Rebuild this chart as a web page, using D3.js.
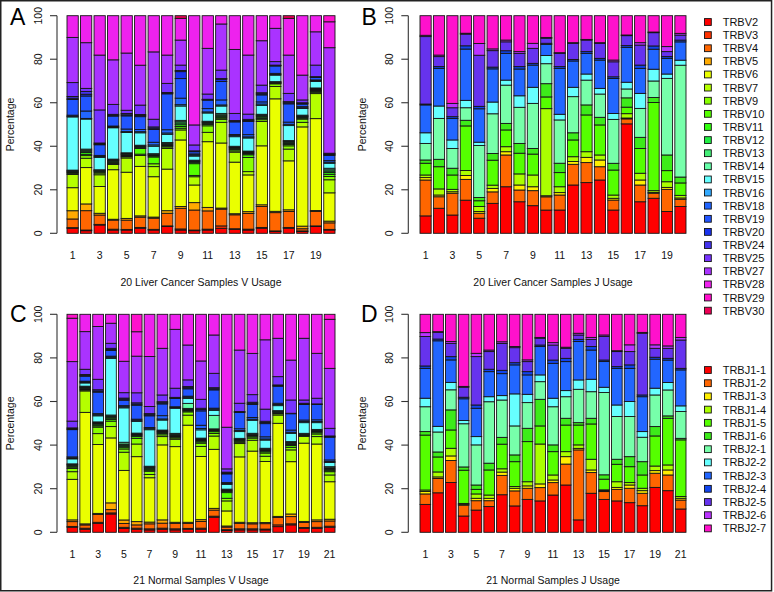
<!DOCTYPE html>
<html><head><meta charset="utf-8">
<script src="https://cdn.jsdelivr.net/npm/d3@7/dist/d3.min.js"></script>
<style>body{margin:0;background:#fff}svg{display:block;font-family:Arial,"Liberation Sans",Helvetica,sans-serif}</style>
</head><body><svg id="c" width="774" height="592"></svg>
<script>
const vGenes = ["TRBV2","TRBV3","TRBV4","TRBV5","TRBV6","TRBV7","TRBV9","TRBV10","TRBV11","TRBV12","TRBV13","TRBV14","TRBV15","TRBV16","TRBV18","TRBV19","TRBV20","TRBV24","TRBV25","TRBV27","TRBV28","TRBV29","TRBV30"];
const jGenes = ["TRBJ1-1","TRBJ1-2","TRBJ1-3","TRBJ1-4","TRBJ1-5","TRBJ1-6","TRBJ2-1","TRBJ2-2","TRBJ2-3","TRBJ2-4","TRBJ2-5","TRBJ2-6","TRBJ2-7"];
const vColors = ["#FF0000","#FF3300","#FF6600","#FFAA00","#EAFF00","#B5FF00","#88FF00","#55FF00","#33FF11","#22EE44","#44EE77","#66FFAA","#66FFFF","#33AAFF","#2266FF","#2255FF","#1A33EE","#4433EE","#7733FF","#AA33FF","#EE22EE","#FF11CC","#EE0055"];
const jColors = ["#FF0000","#FF6600","#FFEE00","#AAFF00","#55FF00","#3DEB1A","#77FFAA","#66FFFF","#2266FF","#1144EE","#6633EE","#BB33FF","#FF11CC"];
const yTicks = [0,20,40,60,80,100];

// rows = samples, columns = genes (percent)
const liverV = [
[2.3,0.3,4.0,3.8,10.6,6.1,0.5,0.4,0.3,0.3,0.2,0.3,24.5,0.3,0.5,7.2,0.6,0.8,6.4,20.8,10,0,0],
[1.2,0.3,8.9,3.1,16.7,4.3,1.2,0.6,0.8,0.6,0.5,0.5,13.8,0.3,3.4,6.9,0.8,1.3,1.4,21,12.4,0,0],
[3.8,0.3,4.3,0.8,12.3,5.4,0.8,0.5,0.3,0.3,0.2,0.2,5.7,0.4,0.5,4.9,0.4,0.4,15.2,25.2,18.1,0,0],
[1.5,0.4,4.2,0.4,22.9,2.4,0.5,0.5,0.5,0.4,0.3,0.3,14.5,0.4,0.4,4.6,0.4,0.4,4.6,20.6,20.4,0,0],
[1.5,0.3,4.3,0.8,21.4,6.6,0.6,0.4,0.4,0.3,0.3,0.4,9.4,0.4,1.2,6.1,0.5,0.6,1.5,26.5,17.3,0,0],
[2.3,0.4,4.7,0.6,22.7,5,0.6,2.6,0.5,0.4,0.3,0.3,5.7,0.5,1,5.9,0.5,0.5,4.3,18.3,22.7,0,0],
[1.5,0.3,5.1,0.5,18.4,4.6,1.3,3.1,0.5,0.4,0.3,0.3,3.4,0.6,1.2,5.8,0.6,0.6,3.5,30.7,16.5,0,0],
[3.1,0.3,5.8,1.2,19.1,9.5,0.7,0.5,0.4,0.4,0.4,0.3,3.8,0.6,1.5,16.5,0.3,0.3,4.2,13,18.1,0,0],
[1.5,0.5,9.5,0.8,30.6,4.6,0.8,0.8,0.8,0.8,0.6,0.6,6.6,0.6,3,9,3.2,0.5,2.5,11.5,10,0,1.2],
[1.2,0.3,9.2,3.4,8.1,3.8,0.6,5.4,0.6,0.4,0.3,0.3,1.9,0.5,0.5,1,0.2,0.2,2.7,9.2,50.2,0,0],
[1.5,0.4,8.4,1.6,30.2,4.3,3,0.6,0.5,0.4,0.3,0.3,3.8,0.5,1.5,3.9,0.2,0.2,2.4,21,15,0,0],
[2.3,1.1,7.7,0.5,29.9,9.5,1.4,0.6,0.5,0.5,0.5,0.6,3.4,0.5,2.3,8.5,1,0.3,3.9,21.2,3.8,0,0],
[1.8,0.3,6.4,0.5,23.7,4.6,0.6,0.6,0.5,0.4,0.3,0.3,4.4,0.5,0.5,5.8,0.3,0.3,3.3,29.4,15.5,0,0],
[1.5,0.4,7.2,0.8,16.8,1.5,6.5,1.2,0.5,0.4,0.4,0.4,6,0.5,1,6,0.5,0.5,2.4,27,18,0,0],
[2.3,0.4,9.6,0.8,27.1,11.2,0.8,0.6,0.6,0.5,0.4,0.4,4.1,0.6,1,3.2,0.5,0.5,3.5,20.4,11.5,0,0],
[0.8,0.3,8.4,0.6,51.7,5.7,1.2,0.2,0.2,0.2,0.2,0.2,3,0.3,0.5,3.4,0.2,0.2,1.6,15.3,5.8,0,0],
[2.3,0.4,7.3,0.8,22.5,5.4,1.5,0.6,0.5,0.5,0.4,0.4,6.9,0.6,1,8.4,0.5,0.5,3.8,17.6,16.9,0,1.2],
[0.8,0.3,1,1.2,45.6,2.1,1.5,0.5,0.4,0.3,0.3,0.3,3.1,0.3,0.5,1.2,0.3,0.3,1.3,11.4,27.3,0,0],
[3.1,0.3,6.6,0.5,42.2,11.5,0.6,0.4,0.4,0.4,0.4,0.4,3,0.3,0.4,1.1,0.2,0.2,5.3,15.3,7.4,0,0],
[1.5,0.3,3,0.8,13,6,1.5,1,0.8,0.7,0.6,0.7,2.3,0.5,0.7,2.4,0.4,0.3,0.3,48.5,11.9,2.8,0]
];
const liverJ = [
[8,16.5,1.1,1.2,5.4,1.5,7.6,4.9,12.8,0.4,31,0.6,9],
[11.5,5.3,0.8,2.8,10.2,3.4,18.8,5.7,17.3,0.8,4.6,0.7,18.1],
[8.4,10,0.7,1.1,6.6,3.1,9.1,3.9,9.9,0.8,4.1,2,40.3],
[15.3,9.6,1.8,2.3,20.6,2.6,5.8,3.4,23.7,1.5,5.4,0.4,8.1],
[6.9,2.3,0.8,2.3,2.6,1.5,23.8,1.5,15.3,1.1,23.4,5.4,12.7],
[13.8,5.3,1.6,1.5,11.5,3.1,18.3,5.4,15.3,0.8,7.6,0.8,15.3],
[21.4,14.6,1.5,2.3,7.7,3,17.6,2.3,12.3,1.2,4.1,0.8,11.2],
[14.5,5.4,2.3,5.1,9.5,4.5,16.6,5.3,12.3,1.1,6.1,0.8,16.5],
[12.7,6.9,1.8,5.4,9.6,2.6,20.7,7.4,10.2,0.8,6.9,2.3,12.7],
[10.7,6.1,0.5,40.1,5.4,6.1,9.2,3.8,5.1,0.5,2.3,0.4,10],
[10.7,6.9,1.1,2.7,6.5,4.3,19.9,2.6,21.1,0.8,6.1,0.3,17],
[22.2,9.5,1.3,2.2,7.7,3.3,16.6,4.3,12.1,0.7,7.4,0.3,12.4],
[23.3,9.2,2.4,2.6,16.9,4.6,11.4,2.8,9.5,0.8,5.3,0.3,10.9],
[24.5,6.1,3.1,2.3,13.8,3.5,10.7,2.6,13,0.8,6.9,0.3,12.4],
[10.7,4.6,0.8,1.5,11.5,3.1,20.2,2.7,16.1,0.8,6.9,0.8,20.4],
[50.5,2.3,0.4,2,3,4.3,4.1,3.1,16.1,0.8,4.6,0.3,8.9],
[14.5,7.7,2.3,3.1,11.4,5.1,13.3,6.9,11.5,1.5,9.2,1.1,12.4],
[16.1,2.3,0.4,0.8,40.5,2.3,7.6,5.4,9.2,1.5,6.1,0.3,7.5],
[10,10.2,0.9,2.6,5.1,7.2,35.2,2,7.2,0.8,2.3,2.3,14.2],
[12.3,3.3,0.6,1.2,5.7,2.7,51.3,2.3,8.4,0.8,2.3,0.8,8.1]
];
const normalV = [
[2.3,0.4,2.2,0.8,18.6,3.5,1.5,0.6,0.5,0.4,0.3,0.3,2.3,0.4,0.5,12.5,0.4,0.4,3.1,27.3,19.9,1.8,0],
[1.4,0.5,1.5,0.5,51.5,9.9,0.5,0.4,0.4,0.3,0.3,0.3,1.5,0.4,0.4,2.3,0.3,0.5,2.4,17.4,8,0,0],
[4.1,0.5,3.6,0.5,31.7,5,3,0.6,0.5,0.5,0.4,0.4,2.8,0.5,0.5,9.9,0.5,0.6,4.8,24.3,5.6,0,0],
[8.4,0.5,1.5,3.1,29.8,5.2,2.5,0.8,0.6,0.5,0.4,0.5,26,0.5,0.5,2.6,0.5,0.5,2.3,9.2,4.1,0,0],
[1.8,0.5,1.8,1.6,22.9,8.4,1.5,0.8,0.5,0.5,0.5,0.8,15.9,0.5,0.5,2.5,0.5,0.5,2.5,14.5,21.7,0,0],
[1.4,0.5,1.5,1.5,29.8,5.8,2.6,0.8,0.5,0.4,0.3,0.4,5.4,0.5,0.5,6.4,0.5,0.6,4.6,16.8,11.2,8,0],
[1.1,0.5,2.3,0.8,20.4,1.5,1.5,0.5,0.5,0.5,0.4,0.4,16.8,0.5,0.5,5.4,0.5,0.5,3.3,23,19.4,0,0],
[1.4,0.5,2.3,1.5,34.4,3.8,0.8,0.6,0.5,0.4,0.3,0.4,4.6,0.5,1.5,5.4,0.5,0.5,3.1,21.4,15.6,0,0],
[1.1,0.5,2.5,0.5,34.7,3.4,0.6,0.5,0.4,0.4,0.4,0.4,11.5,0.3,0.4,3.8,0.3,0.2,4.2,27,6.9,0,0],
[1.4,0.4,2.3,0.5,44.6,4.6,1.5,0.5,0.4,0.4,0.3,2.3,2.3,0.5,0.5,3.4,0.5,0.5,3.1,16,14.1,0,0],
[1.4,0.5,3.1,0.8,29,4.6,1.5,0.6,0.5,0.4,0.4,0.4,3.8,0.6,1.5,6.6,0.6,0.6,4.1,17.6,21.4,0,0],
[6.9,0.5,2.8,0.8,27.1,6.1,1.2,0.8,0.5,0.4,0.4,6.2,2.3,0.5,0.5,8.4,0.5,0.5,6.6,17.6,9.5,0,0],
[0.8,0.4,1.2,0.5,6.9,4.6,1.2,2.6,0.5,0.4,0.3,0.4,2.2,0.4,0.4,4,0.4,0.4,1.5,19.1,51.8,0,0],
[1.1,0.5,2.5,0.5,30,6.1,0.6,0.5,0.4,0.3,0.3,0.3,3.1,0.5,0.8,7.5,0.2,0.2,3.8,24.4,16.4,0,0],
[1.1,0.5,2.3,0.5,33,5,1,0.6,0.5,0.4,0.3,0.4,6,0.5,0.8,6,0.5,0.5,3.5,19,18,0,0],
[1.1,0.4,2.5,0.5,28.3,2.4,1.5,0.6,0.5,0.4,0.3,0.4,3.8,0.5,1,6.1,0.5,0.6,5.6,32.1,11.8,0,0],
[2.6,0.8,3.4,0.5,42.7,3.8,0.6,0.4,0.3,0.3,0.2,0.2,2.3,0.5,0.6,7.8,0.3,0.3,3.8,17.6,11,0,0],
[3.4,0.5,3.3,1.2,24,5.4,1.2,0.8,0.5,0.5,0.4,0.4,3.8,0.5,1,7.5,0.1,0.1,6.1,18.3,21,0,0],
[1.8,0.4,2.3,0.5,35.9,3.1,0.3,0.3,0.2,0.2,0.2,0.2,4.9,0.5,0.7,7.1,0.3,0.3,1.5,28.3,11,0,0],
[1.8,0.5,2.6,0.8,34.8,3.4,1.2,0.6,0.5,0.4,0.3,0.3,3.1,0.5,0.8,7,0.2,0.1,2.6,20.6,17.9,0,0],
[2.3,0.5,2.4,0.8,17.2,3.1,1.5,0.5,0.5,0.4,0.4,0.5,1.9,0.5,0.7,10.4,0.3,0.3,3.5,27.5,22.5,2.3,0]
];
const normalJ = [
[12.8,4.8,1.1,0.7,25.2,1.6,11.4,3.9,13.7,1.1,13.5,1.8,8.4],
[18.2,6.6,0.7,2.3,6.9,2.3,9.2,2.6,39.4,0.8,3.1,0.3,8],
[22.8,10.1,2.1,3.5,8.4,9.2,9.2,3.4,10.3,1.5,6.1,0.8,12.5],
[7.5,5,0.4,0.4,15.3,1.5,19.9,1.5,10,0.7,4.6,0.4,33.2],
[10.2,4.3,1.1,2,2.1,2,18.4,3.8,13,1.5,22.2,1.5,17.9],
[11.8,2.7,1.1,1.5,11.5,3.1,28.2,2.3,11.5,1.1,8.1,0.7,16.4],
[17.1,8.8,1.5,1.5,11.2,3.1,17,2,10,1.5,12.2,0.8,12.5],
[12.1,6.9,1.2,0.8,11.4,3.1,13.3,14.7,13.3,1,6.9,0.5,14.8],
[15.1,5.1,1.1,1.9,18.4,6.1,11.8,3.8,8.9,1.5,4.6,0.8,20.9],
[14.4,6.1,1.7,18.3,8.3,12.2,8.1,3.1,13,0.7,3.1,0.4,10.6],
[17.1,5.7,1.2,2.3,10.7,3.1,17.5,3.9,16,1.5,6.9,1.1,13],
[21.7,9.6,3.4,2.3,12.2,3.1,9.9,2.8,13.3,1.5,4.6,0.5,15.1],
[5.7,32.1,0.7,1.6,9.1,1.1,15.3,4.3,17.6,1,2,0.8,8.7],
[17.9,9.5,1.2,4.9,16.2,2.6,12.2,5.7,13.4,1.6,3.3,0.9,10.6],
[15.1,3.6,0.4,0.4,4.9,2,37.8,2.4,11.8,0.7,10.8,0.7,9.5],
[14.4,5.3,0.9,2.6,8,2.3,19.6,5.3,16.8,0.8,6.9,0.4,16.7],
[13.6,6.6,1.5,1.1,7.3,4.6,18.4,6.9,15.2,1.6,6.1,3.1,14],
[12.2,5.7,1.2,1.1,6.1,6.1,11.2,2.6,16,0.8,28.3,0.4,8.3],
[20.6,6.5,1.2,2.1,13.8,4.3,14.5,3.1,13.3,0.9,4.1,1.6,14],
[19.1,7.2,2.3,2.3,21.4,1.1,11.9,3.4,10.3,0.8,4.6,1.1,14.5],
[10.7,4.1,0.8,0.8,26,0.7,12.3,2.6,16.5,0.7,13,1.2,10.6]
];
const panelTitles = ["20 Liver Cancer Samples V Usage","20 Liver Cancer Samples J Usage","21 Normal Samples V Usage","21 Normal Samples J Usage"];
const panelLetters = ["A","B","C","D"];
const yLabel = "Percentage";

const svg = d3.select("#c");
const FONT = 10.5;

const panels = [
  {data: liverV,  colors: vColors, x0: 67,  x1: 335, axisX: 57,    yTop: 15.7,  yBot: 233.3, lx: 10,    ly: 25,    tickB: 259.2, titleB: 285.9},
  {data: liverJ,  colors: jColors, x0: 420, x1: 686, axisX: 408.3, yTop: 15.7,  yBot: 233.3, lx: 361.5, ly: 25,    tickB: 259.2, titleB: 285.9},
  {data: normalV, colors: vColors, x0: 67,  x1: 335, axisX: 57,    yTop: 314.3, yBot: 532.3, lx: 10,    ly: 321.7, tickB: 557.5, titleB: 584.3},
  {data: normalJ, colors: jColors, x0: 420, x1: 686, axisX: 408.3, yTop: 314.3, yBot: 532.3, lx: 361,   ly: 321.7, tickB: 557.5, titleB: 584.3}
];

panels.forEach((p, pi) => {
  const n = p.data.length;
  const nG = p.data[0].length;
  const rows = p.data.map(r => { const t = d3.sum(r); return r.map(v => v / t * 100); });
  const x = d3.scaleBand().domain(d3.range(n)).range([p.x0, p.x1]).paddingInner(1/6).paddingOuter(0);
  const y = d3.scaleLinear().domain([0, 100]).range([p.yBot, p.yTop]);
  const stack = d3.stack().keys(d3.range(nG))(rows);
  const g = svg.append("g");
  stack.forEach((layer, k) => {
    g.selectAll(null).data(layer.map((d, i) => ({d, i})).filter(o => o.d[1] - o.d[0] > 0))
      .join("rect")
      .attr("x", o => x(o.i))
      .attr("width", x.bandwidth())
      .attr("y", o => y(o.d[1]))
      .attr("height", o => y(o.d[0]) - y(o.d[1]))
      .attr("fill", p.colors[k])
      .attr("stroke", "#151515")
      .attr("stroke-width", 0.9);
  });
  // y axis
  const ax = svg.append("g");
  ax.append("line").attr("x1", p.axisX).attr("x2", p.axisX).attr("y1", y(0)).attr("y2", y(100))
    .attr("stroke", "#333").attr("stroke-width", 1.1);
  yTicks.forEach(t => {
    ax.append("line").attr("x1", p.axisX - 7).attr("x2", p.axisX).attr("y1", y(t)).attr("y2", y(t))
      .attr("stroke", "#333").attr("stroke-width", 1.1);
    ax.append("text").attr("transform", `translate(${p.axisX - 15.3},${y(t)}) rotate(-90)`)
      .attr("text-anchor", "middle").attr("font-size", FONT).attr("fill", "#111").text(t);
  });
  svg.append("text").attr("transform", `translate(${p.axisX - 42.8},${(y(0) + y(100)) / 2}) rotate(-90)`)
    .attr("text-anchor", "middle").attr("font-size", FONT).attr("fill", "#111").text(yLabel);
  // x labels (odd only)
  d3.range(n).filter(i => i % 2 === 0).forEach(i => {
    svg.append("text").attr("x", x(i) + x.bandwidth() / 2).attr("y", p.tickB)
      .attr("text-anchor", "middle").attr("font-size", FONT).attr("fill", "#111").text(i + 1);
  });
  svg.append("text").attr("x", (p.x0 + p.x1) / 2).attr("y", p.titleB)
    .attr("text-anchor", "middle").attr("font-size", FONT).attr("fill", "#111").text(panelTitles[pi]);
  svg.append("text").attr("x", p.lx).attr("y", p.ly).attr("font-size", 23).attr("fill", "#000").text(panelLetters[pi]);
});

// legends
function legend(genes, colors, y0, step) {
  const lg = svg.append("g");
  genes.forEach((gname, i) => {
    const cy = y0 + i * step;
    lg.append("rect").attr("x", 704.5).attr("y", cy - 3.4).attr("width", 6.8).attr("height", 6.8)
      .attr("fill", colors[i]).attr("stroke", "#111").attr("stroke-width", 0.9);
    lg.append("text").attr("x", 722.7).attr("y", cy + 4).attr("font-size", 11).attr("fill", "#111").text(gname);
  });
}
legend(vGenes, vColors, 22, 13.12);
legend(jGenes, jColors, 370, 13.2);

// frame
svg.append("rect").attr("x", 0.75).attr("y", 0.75).attr("width", 770.8).attr("height", 590)
  .attr("fill", "none").attr("stroke", "#222").attr("stroke-width", 1.5);
</script>
</body></html>
